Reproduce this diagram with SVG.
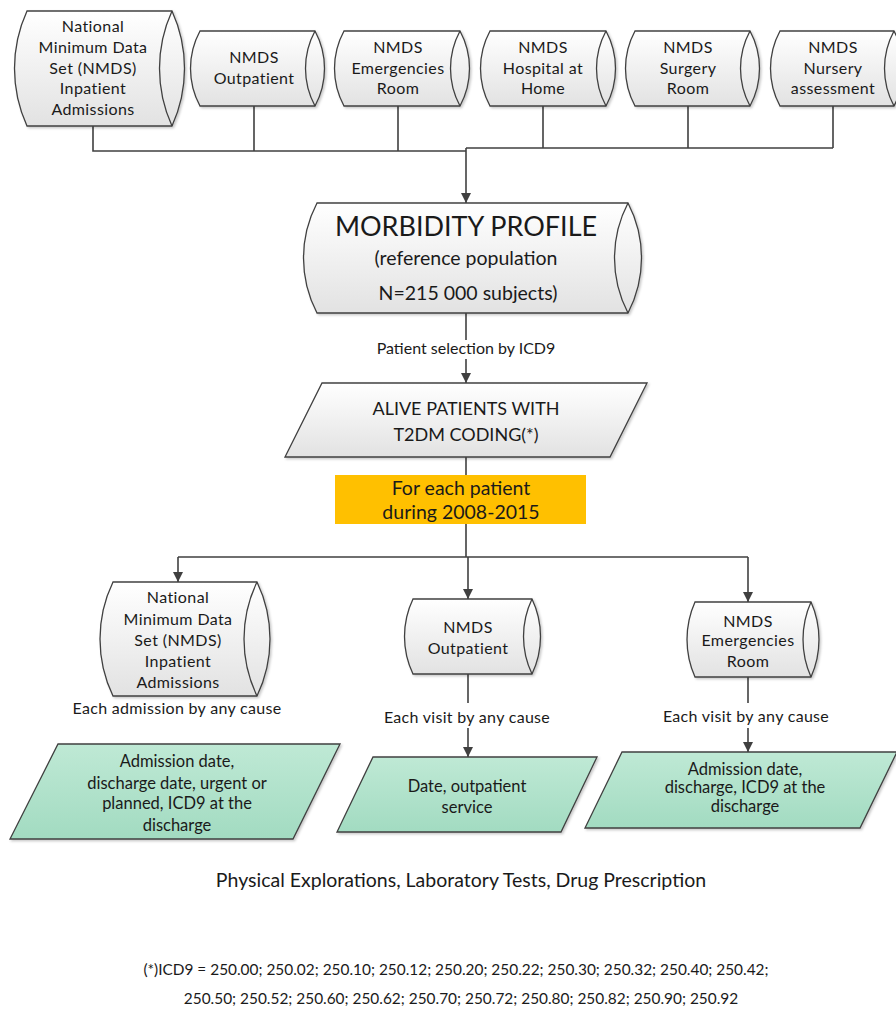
<svg xmlns="http://www.w3.org/2000/svg" width="896" height="1009" viewBox="0 0 896 1009">
  <defs>
    <linearGradient id="gGray" x1="0" y1="0" x2="0" y2="1">
      <stop offset="0" stop-color="#ffffff"/>
      <stop offset="1" stop-color="#e2e2e2"/>
    </linearGradient>
    <linearGradient id="gGreen" x1="0" y1="0" x2="0" y2="1">
      <stop offset="0" stop-color="#bfe9d5"/>
      <stop offset="1" stop-color="#a2dbc1"/>
    </linearGradient>
    <filter id="shadow" x="-10%" y="-10%" width="130%" height="130%">
      <feDropShadow dx="1.5" dy="1.5" stdDeviation="1" flood-color="#000" flood-opacity="0.22"/>
    </filter>
    <marker id="arrow" viewBox="0 0 10 10" refX="10" refY="5" markerWidth="10" markerHeight="10" markerUnits="userSpaceOnUse" orient="auto">
      <path d="M0,0 L10,5 L0,10 z" fill="#404040"/>
    </marker>
    <style>
      .shape { stroke: #404040; stroke-width: 1.3; filter: url(#shadow); }
      .gray { fill: url(#gGray); }
      .green { fill: url(#gGreen); }
      .inner { fill: none; stroke: #404040; stroke-width: 1.3; }
      .t { font-family: Lato, "Noto Sans", sans-serif; fill: #1a1a1a; text-anchor: middle; }
      .cyl { font-size: 16px; letter-spacing: 0.4px; }
      .lbl { font-size: 16px; letter-spacing: 0.3px; }
      .s16 { font-size: 16px; }
      .var { font-size: 16.5px; }
      .s18 { font-size: 18px; }
      .s195 { font-size: 19.5px; }
      .big { font-size: 27px; }
      .foot { font-size: 15.4px; }
      .wire { fill: none; stroke: #404040; stroke-width: 1.6; }
      .arr { marker-end: url(#arrow); }
    </style>
  </defs>

  <rect width="896" height="1009" fill="#ffffff"/>

  <!-- connectors -->
  <g id="connectors">
    <path class="wire" d="M93,126 V151 H466 M254,106 V151 M398,106 V151"/>
    <path class="wire" d="M466,148 H833 M543,106 V148 M688,106 V148 M833,106 V148"/>
    <path class="wire arr" d="M466,148 V203"/>
    <path class="wire" d="M466,313 V340"/>
    <path class="wire arr" d="M466,359 V383"/>
    <path class="wire" d="M466,457 V475"/>
    <path class="wire" d="M466,524 V557 M178,557 H748"/>
    <path class="wire arr" d="M178,557 V582"/>
    <path class="wire arr" d="M468,557 V599"/>
    <path class="wire arr" d="M748,557 V602"/>
    <path class="wire" d="M468,674 V703"/>
    <path class="wire arr" d="M468,728 V757"/>
    <path class="wire" d="M748,677 V703"/>
    <path class="wire arr" d="M748,728 V752"/>
  </g>

  <!-- source tables -->
  <g id="src-inpatient">
    <path class="shape gray" d="M27,11 H172 A138.5,138.5 0 0 1 172,126 H27 A138.5,138.5 0 0 1 27,11 Z"/>
    <path class="inner" d="M172,11 A138.5,138.5 0 0 0 172,126"/>
    <text class="t cyl" x="93" y="32">National</text>
    <text class="t cyl" x="93" y="53">Minimum Data</text>
    <text class="t cyl" x="93" y="74">Set (NMDS)</text>
    <text class="t cyl" x="93" y="94">Inpatient</text>
    <text class="t cyl" x="93" y="115">Admissions</text>
  </g>
  <g id="src-outpatient">
    <path class="shape gray" d="M200,31 H315 A78.8,78.8 0 0 1 315,106 H200 A78.8,78.8 0 0 1 200,31 Z"/>
    <path class="inner" d="M315,31 A78.8,78.8 0 0 0 315,106"/>
    <text class="t cyl" x="254" y="63">NMDS</text>
    <text class="t cyl" x="254" y="84">Outpatient</text>
  </g>
  <g id="src-emergencies">
    <path class="shape gray" d="M344,31 H460 A78.8,78.8 0 0 1 460,106 H344 A78.8,78.8 0 0 1 344,31 Z"/>
    <path class="inner" d="M460,31 A78.8,78.8 0 0 0 460,106"/>
    <text class="t cyl" x="398" y="53">NMDS</text>
    <text class="t cyl" x="398" y="74">Emergencies</text>
    <text class="t cyl" x="398" y="94">Room</text>
  </g>
  <g id="src-home">
    <path class="shape gray" d="M490,31 H606 A78.8,78.8 0 0 1 606,106 H490 A78.8,78.8 0 0 1 490,31 Z"/>
    <path class="inner" d="M606,31 A78.8,78.8 0 0 0 606,106"/>
    <text class="t cyl" x="543" y="53">NMDS</text>
    <text class="t cyl" x="543" y="74">Hospital at</text>
    <text class="t cyl" x="543" y="94">Home</text>
  </g>
  <g id="src-surgery">
    <path class="shape gray" d="M635,31 H750 A78.8,78.8 0 0 1 750,106 H635 A78.8,78.8 0 0 1 635,31 Z"/>
    <path class="inner" d="M750,31 A78.8,78.8 0 0 0 750,106"/>
    <text class="t cyl" x="688" y="53">NMDS</text>
    <text class="t cyl" x="688" y="74">Surgery</text>
    <text class="t cyl" x="688" y="94">Room</text>
  </g>
  <g id="src-nursery">
    <path class="shape gray" d="M780,31 H894 A78.8,78.8 0 0 1 894,106 H780 A78.8,78.8 0 0 1 780,31 Z"/>
    <path class="inner" d="M894,31 A78.8,78.8 0 0 0 894,106"/>
    <text class="t cyl" x="833" y="53">NMDS</text>
    <text class="t cyl" x="833" y="74">Nursery</text>
    <text class="t cyl" x="833" y="94">assessment</text>
  </g>

  <!-- morbidity profile -->
  <g id="morbidity">
    <path class="shape gray" d="M317,203 H628 A118.8,118.8 0 0 1 628,313 H317 A118.8,118.8 0 0 1 317,203 Z"/>
    <path class="inner" d="M628,203 A118.8,118.8 0 0 0 628,313"/>
    <text class="t big" x="466" y="236">MORBIDITY PROFILE</text>
    <text class="t s195" x="466" y="265">(reference population</text>
    <text class="t s195" x="468" y="300">N=215 000 subjects)</text>
  </g>
  <text class="t s16" x="466" y="354">Patient selection by ICD9</text>

  <!-- selected cohort -->
  <g id="cohort">
    <path class="shape gray" d="M322,383 H647 L610,457 H285 Z"/>
    <text class="t s18" x="466" y="415">ALIVE PATIENTS WITH</text>
    <text class="t s18" x="466" y="441">T2DM CODING(*)</text>
  </g>

  <g id="period">
    <rect x="335" y="475" width="251" height="49" fill="#ffc000"/>
    <text class="t s195" x="461" y="495">For each patient</text>
    <text class="t s195" x="461" y="519">during 2008-2015</text>
  </g>

  <!-- per-patient sources -->
  <g id="pt-inpatient">
    <path class="shape gray" d="M113,582 H257 A131.5,131.5 0 0 1 257,696 H113 A131.5,131.5 0 0 1 113,582 Z"/>
    <path class="inner" d="M257,582 A131.5,131.5 0 0 0 257,696"/>
    <text class="t cyl" x="178" y="603">National</text>
    <text class="t cyl" x="178" y="625">Minimum Data</text>
    <text class="t cyl" x="178" y="646">Set (NMDS)</text>
    <text class="t cyl" x="178" y="667">Inpatient</text>
    <text class="t cyl" x="178" y="688">Admissions</text>
  </g>
  <text class="t lbl" x="177" y="714">Each admission by any cause</text>

  <g id="pt-outpatient">
    <path class="shape gray" d="M413,599 H532 A87,87 0 0 1 532,674 H413 A87,87 0 0 1 413,599 Z"/>
    <path class="inner" d="M532,599 A87,87 0 0 0 532,674"/>
    <text class="t cyl" x="468" y="633">NMDS</text>
    <text class="t cyl" x="468" y="654">Outpatient</text>
  </g>
  <text class="t lbl" x="467" y="723">Each visit by any cause</text>

  <g id="pt-emergencies">
    <path class="shape gray" d="M695,602 H811 A92,92 0 0 1 811,677 H695 A92,92 0 0 1 695,602 Z"/>
    <path class="inner" d="M811,602 A92,92 0 0 0 811,677"/>
    <text class="t cyl" x="748" y="627">NMDS</text>
    <text class="t cyl" x="748" y="646">Emergencies</text>
    <text class="t cyl" x="748" y="667">Room</text>
  </g>
  <text class="t lbl" x="746" y="722">Each visit by any cause</text>

  <!-- extracted variables -->
  <g id="vars-inpatient">
    <path class="shape green" d="M58,744 H340 L293,839 H10 Z"/>
    <text class="t var" x="177" y="767">Admission date,</text>
    <text class="t var" x="177" y="789">discharge date, urgent or</text>
    <text class="t var" x="177" y="809">planned, ICD9 at the</text>
    <text class="t var" x="177" y="831">discharge</text>
  </g>
  <g id="vars-outpatient">
    <path class="shape green" d="M373,757 H597 L561,832 H337 Z"/>
    <text class="t var" x="467" y="792">Date, outpatient</text>
    <text class="t var" x="467" y="813">service</text>
  </g>
  <g id="vars-emergencies">
    <path class="shape green" d="M622,752 H897 L860,828 H585 Z"/>
    <text class="t var" x="745" y="775">Admission date,</text>
    <text class="t var" x="745" y="793">discharge, ICD9 at the</text>
    <text class="t var" x="745" y="812">discharge</text>
  </g>

  <text class="t s195" x="461" y="887">Physical Explorations, Laboratory Tests, Drug Prescription</text>

  <g id="footnote">
    <text class="t foot" x="456" y="975">(*)ICD9 = 250.00; 250.02; 250.10; 250.12; 250.20; 250.22; 250.30; 250.32; 250.40; 250.42;</text>
    <text class="t foot" x="461" y="1004">250.50; 250.52; 250.60; 250.62; 250.70; 250.72; 250.80; 250.82; 250.90; 250.92</text>
  </g>
</svg>
